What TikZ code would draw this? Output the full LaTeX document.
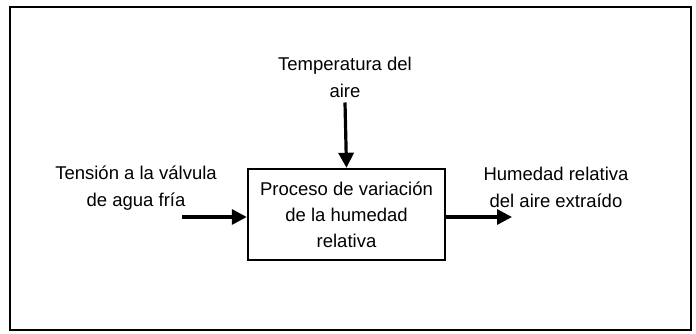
\documentclass[tikz,border=0pt]{standalone}
\usepackage{fontspec}
\setmainfont{Liberation Sans}
\usetikzlibrary{arrows.meta}
\begin{document}
\begin{tikzpicture}[x=1pt,y=-1pt]
% width of the thick flow lines
\def\lw{3.2pt}
% node style definition
\tikzstyle{txt} = [draw=none, fill=none, align=center, inner sep=0pt,
	font=\fontsize{18.5}{27}\selectfont];
\tikzstyle{process} = [draw, line width=2.4pt, fill=white,
	minimum width=197pt, minimum height=91pt, inner sep=0pt,
	align=center, font=\fontsize{18.5}{26}\selectfont];
\tikzstyle{flow} = [line width=\lw, -{Triangle[length=15pt,width=15pt]}];
% picture frame
\useasboundingbox (0,0) rectangle (696,333);
\draw[line width=1.3pt] (10,7) rectangle (691,330);
% block and signals
\node[process] (proc) at (346.5,214.5) {Proceso de variación\\de la humedad\\relativa};
\node[txt] (temp) at (345,77) {Temperatura del\\aire};
\node[txt] (volt) at (136,188) {Tensión a la válvula\\de agua fría};
\node[txt] (hum) at (556,187) {Humedad relativa\\del aire extraído};
\coordinate (vin) at (182,217);
\coordinate (hout) at (512,217);
% connectors
\draw[flow] ([yshift=-5pt]temp.south) -- (proc.north);
\draw[flow] (vin) -- (vin -| proc.west);
\draw[flow] (hout -| proc.east) -- (hout);
\end{tikzpicture}
\end{document}
